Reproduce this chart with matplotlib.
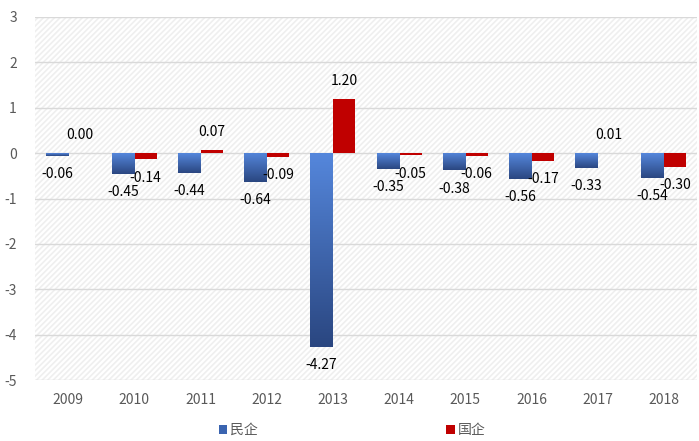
import matplotlib
matplotlib.use("Agg")
import matplotlib.pyplot as plt
import numpy as np
from matplotlib.patches import Patch
from matplotlib.colors import LinearSegmentedColormap

plt.rcParams['font.family'] = ['Noto Sans CJK SC', 'DejaVu Sans']
plt.rcParams['hatch.linewidth'] = 1.2
plt.rcParams['axes.unicode_minus'] = False

years = ['2009', '2010', '2011', '2012', '2013', '2014', '2015', '2016', '2017', '2018']
private = [-0.06, -0.45, -0.44, -0.64, -4.27, -0.35, -0.38, -0.56, -0.33, -0.54]
state = [0.00, -0.14, 0.07, -0.09, 1.20, -0.05, -0.06, -0.17, 0.01, -0.30]
series_names = ['民企', '国企']

fig = plt.figure(figsize=(6.99, 4.41), dpi=100)
ax = fig.add_axes([35/699, 1 - 380/441, 662/699, 363/441])

x = np.arange(len(years))
w = 0.34
blue_bars = ax.bar(x - w/2, private, width=w, color='#3a64b0', zorder=3)
red_bars = ax.bar(x + w/2, state, width=w, color='#c00000', zorder=3)

# gradient on blue bars
cmap = LinearSegmentedColormap.from_list('g', ['#2a4680', '#5587dc'])
grad = np.linspace(0, 1, 256).reshape(-1, 1)
for b in blue_bars:
    x0, y0 = b.get_x(), b.get_y()
    bw, bh = b.get_width(), b.get_height()
    ylo, yhi = min(y0, y0 + bh), max(y0, y0 + bh)
    im = ax.imshow(grad, cmap=cmap, aspect='auto', origin='lower',
                   extent=[x0, x0 + bw, ylo, yhi], zorder=4)
    im.set_clip_path(b)

ax.set_xlim(-0.5, len(years) - 0.5)
ax.set_ylim(-5, 3)
ax.set_yticks(range(-5, 4))
ax.set_xticks(x)
ax.set_xticklabels(years)
ax.tick_params(axis='both', length=0, colors='#595959', labelsize=10)
ax.tick_params(axis='x', pad=9)
ax.tick_params(axis='y', pad=13)
for s in ax.spines.values():
    s.set_visible(False)
ax.grid(axis='y', color='#d9d9d9', linewidth=1, zorder=1)
ax.set_axisbelow(True)

ax.patch.set_facecolor('white')
ax.patch.set_hatch('//////')
ax.patch.set_edgecolor('#efefef')
ax.patch.set_linewidth(0)

off = 0.4
for xi, v in zip(x, private):
    y = v - off if v < 0 else v + off
    ax.text(xi - w/2, y, f'{v:.2f}', ha='center', va='center', fontsize=10, color='black', zorder=5)
for xi, v in zip(x, state):
    y = v - off if v < 0 else v + off
    ax.text(xi + w/2, y, f'{v:.2f}', ha='center', va='center', fontsize=10, color='black', zorder=5)

fig.legend(handles=[Patch(facecolor='#3a64b0', label=series_names[0]),
                    Patch(facecolor='#c00000', label=series_names[1])],
           loc='center', bbox_to_anchor=(352/699, 1 - 430/441), ncol=2, frameon=False,
           fontsize=10, handlelength=0.6, handleheight=0.6, handletextpad=0.2,
           columnspacing=13.6, labelcolor='#595959')

fig.savefig('out.png', dpi=100)
